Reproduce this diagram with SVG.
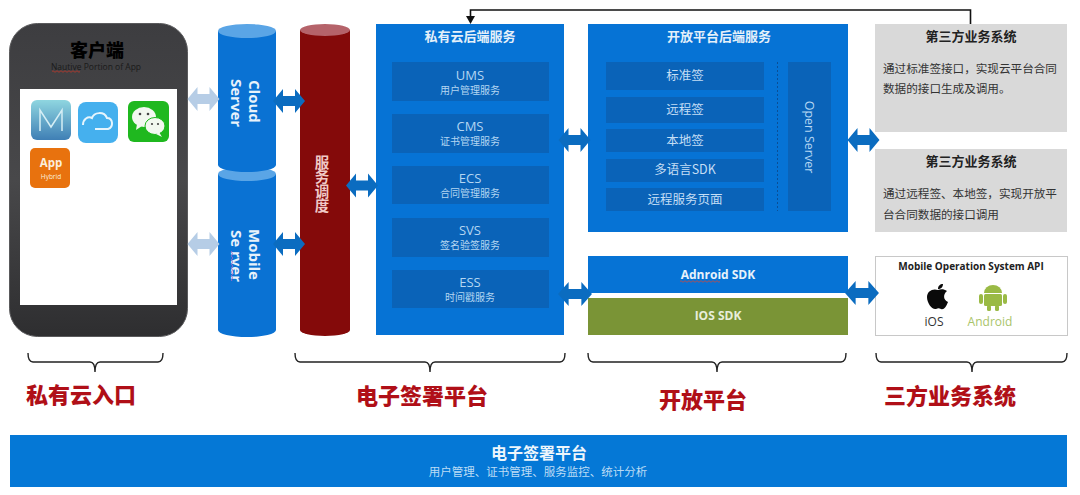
<svg xmlns="http://www.w3.org/2000/svg" width="1080" height="495" viewBox="0 0 1080 495">
<style>
text{font-family:"Noto Sans CJK SC","Open Sans","Liberation Sans",sans-serif;text-anchor:middle}
.box{fill:#0673d5}.in{fill:#0a63b8}.cyl{fill:#0a72d3}.captop{fill:#5aa5e6}
.t1{font-size:13px;fill:#b4d6f2}.t2{font-size:10px;fill:#b4d6f2}.t3{font-size:12.5px;fill:#c4def5}
.hd{font-size:13px;font-weight:700;fill:#e4f0fa}
.en{font-family:"Open Sans","Liberation Sans","Noto Sans CJK SC",sans-serif}
.rot{font-size:15px;font-weight:700;fill:#e8f2fb;text-anchor:start}
.gh{font-size:13px;font-weight:700;fill:#222}.gb{font-size:11.6px;fill:#333;text-anchor:start}
.red{font-size:22px;font-weight:900;fill:#b00f17}
.brace{fill:none;stroke:#222;stroke-width:1.4}
.wavy{fill:none;stroke:#c0392b;stroke-width:.8}
.dk{fill:#0b6cc0}.lt{fill:#b6cde6}
</style>
<defs>
<linearGradient id="ph" x1="0" y1="0" x2="0" y2="1"><stop offset="0" stop-color="#3d3d40"/><stop offset=".5" stop-color="#48484a"/><stop offset="1" stop-color="#2e2e30"/></linearGradient>
<linearGradient id="mi" x1="0" y1="0" x2="0" y2="1"><stop offset="0" stop-color="#8fd6e0"/><stop offset="1" stop-color="#3f7fb5"/></linearGradient>
<path id="da" d="M-16 0L-6-12V-5H6V-12L16 0L6 12V5H-6V12Z"/>
</defs>
<rect width="1080" height="495" fill="#fff"/>

<g id="client">
<rect x="9.500" y="23.500" width="178" height="313" rx="28" fill="url(#ph)" stroke="#5a5a5c"/>
<rect x="20" y="89" width="157" height="216" fill="#fff"/>
<text x="97" y="57" font-size="18" font-weight="900" fill="#000">客户端</text>
<text class="en" x="96" y="70" font-size="8.500" fill="#1a1a1a">Nautive Portion of App</text>
<path class="wavy" d="M52 71.500q1-1.500 2 0t2 0t2 0t2 0t2 0t2 0t2 0t2 0t2 0t2 0t2 0t2 0t2 0t2 0"/>
<g id="icon-m"><rect x="31" y="100" width="40" height="40" rx="6" fill="url(#mi)"/><path d="M40 131V110L51 127L62 110V131" fill="none" stroke="#d5eef5" stroke-width="1.500"/></g>
<g id="icon-cloud"><rect x="78" y="102" width="40" height="41" rx="8" fill="#45b0ee"/><path d="M83 125c0-6 5-9 9-7c2-6 12-7 15 0c6 0 7 9 1 11H95" fill="none" stroke="#e6f5fd" stroke-width="2"/></g>
<g id="icon-wechat"><rect x="128" y="101" width="41" height="41" rx="6" fill="#1fb81f"/><ellipse cx="144" cy="117" rx="12" ry="10" fill="#f2f8f0"/><path d="M137 124l-1 6 6-4z" fill="#f2f8f0"/><ellipse cx="155" cy="126" rx="10" ry="8.500" fill="#f2f8f0" stroke="#1fb81f"/><path d="M159 132l3 5-6-3z" fill="#f2f8f0"/><circle cx="140" cy="114" r="1.300" fill="#444"/><circle cx="148" cy="114" r="1.300" fill="#444"/><circle cx="152" cy="124" r="1.100" fill="#444"/><circle cx="158" cy="124" r="1.100" fill="#444"/></g>
<g id="icon-app"><rect x="30" y="148" width="40" height="40" rx="5" fill="#e8720e"/><text class="en" x="51" y="167" font-size="11.500" font-weight="700" fill="#fbeedd">App</text><text class="en" x="51" y="179" font-size="6.500" fill="#fbeedd">Hybrid</text></g>
</g>

<g id="mobile-server">
<path class="cyl" d="M218 174V330A29 7 0 0 0 276 330V174Z"/>
<ellipse class="captop" cx="247" cy="174" rx="29" ry="7"/>
<text class="rot en" transform="translate(249 229) rotate(90)">Mobile</text>
<text class="rot en" transform="translate(231 230) rotate(90)">Se rver</text>
<path d="M232 251q-1.500 1 0 2t0 2t0 2t0 2t0 2t0 2t0 2t0 2t0 2t0 2t0 2t0 2t0 2t0 2t0 2" fill="none" stroke="#b06ac8" stroke-width=".8"/>
</g>
<g id="cloud-server">
<path class="cyl" d="M218 31V165A29 7 0 0 0 276 165V31Z"/>
<ellipse class="captop" cx="247" cy="31" rx="29" ry="7"/>
<text class="rot en" transform="translate(249 80) rotate(90)">Cloud</text>
<text class="rot en" transform="translate(231 79) rotate(90)">Server</text>
</g>
<g id="dispatch">
<path d="M300 30V330A25 6 0 0 0 350 330V30Z" fill="#840a0a"/>
<ellipse cx="325" cy="30" rx="25" ry="6" fill="#b5636a"/>
<text x="322" y="155" font-size="14.500" font-weight="700" fill="#f0c9c6" style="writing-mode:vertical-rl;text-orientation:upright;text-anchor:start">服务调度</text>
</g>

<g id="private-cloud">
<rect class="box" x="376" y="24" width="188" height="311"/>
<text class="hd" x="470" y="41">私有云后端服务</text>
<rect class="in" x="392" y="62" width="157" height="39"/><text class="t1 en" x="470" y="80">UMS</text><text class="t2" x="470" y="94">用户管理服务</text>
<rect class="in" x="392" y="114" width="157" height="39"/><text class="t1 en" x="470" y="131">CMS</text><text class="t2" x="470" y="145">证书管理服务</text>
<rect class="in" x="392" y="166" width="157" height="38"/><text class="t1 en" x="470" y="183">ECS</text><text class="t2" x="470" y="197">合同管理服务</text>
<rect class="in" x="392" y="218" width="157" height="39"/><text class="t1 en" x="470" y="235">SVS</text><text class="t2" x="470" y="249">签名验签服务</text>
<rect class="in" x="392" y="270" width="157" height="38"/><text class="t1 en" x="470" y="287">ESS</text><text class="t2" x="470" y="301">时间戳服务</text>
</g>

<g id="open-platform">
<rect class="box" x="588" y="24" width="260" height="208"/>
<text class="hd" x="719" y="41">开放平台后端服务</text>
<rect class="in" x="606" y="62" width="158" height="28"/><text class="t3" x="685" y="80">标准签</text>
<rect class="in" x="606" y="97" width="158" height="26"/><text class="t3" x="685" y="114">远程签</text>
<rect class="in" x="606" y="129" width="158" height="23"/><text class="t3" x="685" y="145">本地签</text>
<rect class="in" x="606" y="159" width="158" height="23"/><text class="t3" x="685" y="174">多语言SDK</text>
<rect class="in" x="606" y="188" width="158" height="23"/><text class="t3" x="685" y="204">远程服务页面</text>
<path d="M777.500 62V211" stroke="#0a4f96" stroke-dasharray="2 2" fill="none"/>
<rect class="in" x="788" y="62" width="43" height="149"/>
<text class="en" transform="translate(804.500 137) rotate(90)" font-size="12.500" fill="#b4d6f2">Open Server</text>
</g>

<g id="sdk">
<rect class="box" x="588" y="256" width="260" height="37"/>
<text class="en" x="718" y="279" font-size="12" font-weight="700" fill="#e8f2fb">Adnroid SDK</text>
<path d="M680 281.500q1-1.500 2 0t2 0t2 0t2 0t2 0t2 0t2 0t2 0t2 0t2 0t2 0t2 0t2 0t2 0t2 0t2 0t2 0t2 0t2 0t2 0" fill="none" stroke="#d04a3a" stroke-width=".8"/>
<rect x="588" y="298" width="260" height="37" fill="#7a9436"/>
<text class="en" x="718" y="320" font-size="12" font-weight="700" fill="#e8eedb">IOS SDK</text>
</g>

<g id="third-party-1">
<rect x="875" y="24" width="192" height="108" fill="#d9d9d9"/>
<text class="gh" x="971" y="41">第三方业务系统</text>
<text class="gb" x="883" y="73">通过标准签接口，实现云平台合同</text>
<text class="gb" x="883" y="93">数据的接口生成及调用。</text>
</g>
<g id="third-party-2">
<rect x="875" y="149" width="192" height="83" fill="#d9d9d9"/>
<text class="gh" x="971" y="166">第三方业务系统</text>
<text class="gb" x="883" y="198">通过远程签、本地签，实现开放平</text>
<text class="gb" x="883" y="219">台合同数据的接口调用</text>
</g>
<g id="mobile-api">
<rect x="875.500" y="256.500" width="192" height="79" fill="#fff" stroke="#c8c8c8"/>
<text class="en" x="971" y="270" font-size="10" font-weight="700" fill="#222">Mobile Operation System API</text>
<path d="M938 290c3-1 6-1 9 1c-4 3-4 9 1 11c-2 5-4 8-7 7c-2-1-3-1-5 0c-4 1-9-6-9-12c0-6 6-9 11-7zM938 289c0-3 2-5 5-5c0 3-2 5-5 5z" fill="#0a0a0a"/>
<text class="en" x="934" y="326" font-size="12" fill="#333">iOS</text>
<g fill="#9aba45"><path d="M984 293a9 8 0 0 1 18 0z"/><rect x="984" y="294" width="18" height="12" rx="1.500"/><rect x="979" y="294" width="4" height="10" rx="2"/><rect x="1003" y="294" width="4" height="10" rx="2"/><rect x="987" y="305" width="4" height="6" rx="1.500"/><rect x="995" y="305" width="4" height="6" rx="1.500"/></g>
<text class="en" x="990" y="326" font-size="12" fill="#a9c46a">Android</text>
</g>

<g id="connectors">
<path d="M970.500 24V10H470.500V17" fill="none" stroke="#111" stroke-width="1.600"/>
<path d="M466 16H475L470.500 24Z" fill="#111"/>
<use href="#da" class="lt" transform="translate(203.500 99)"/>
<use href="#da" class="lt" transform="translate(203.500 244)"/>
<use href="#da" class="dk" transform="translate(289 101)"/>
<use href="#da" class="dk" transform="translate(289 244)"/>
<use href="#da" class="dk" transform="translate(362 185.500)"/>
<use href="#da" class="dk" transform="translate(574.500 140)"/>
<use href="#da" class="dk" transform="translate(575 294) scale(1.060 1)"/>
<use href="#da" class="dk" transform="translate(863.500 140)"/>
<use href="#da" class="dk" transform="translate(862 293) scale(1.060 1)"/>
</g>

<g id="brace-labels">
<path class="brace" d="M28 353c0 6 1 9 5 9H90c3 0 5 3 5 10c0-7 2-10 5-10H158c4 0 5-3 5-9"/>
<path class="brace" d="M295 353c0 6 1 9 5 9H425c3 0 5 3 5 10c0-7 2-10 5-10H560c4 0 5-3 5-9"/>
<path class="brace" d="M588 353c0 6 1 9 5 9H712c3 0 5 3 5 10c0-7 2-10 5-10H841c4 0 5-3 5-9"/>
<path class="brace" d="M876 353c0 6 1 9 5 9H967c3 0 5 3 5 10c0-7 2-10 5-10H1062c4 0 5-3 5-9"/>
<text class="red" x="81" y="403">私有云入口</text>
<text class="red" x="422" y="404">电子签署平台</text>
<text class="red" x="703" y="408">开放平台</text>
<text class="red" x="950" y="404">三方业务系统</text>
</g>

<g id="footer">
<rect x="10" y="435" width="1057" height="52" fill="#0578d6"/>
<text x="539" y="459" font-size="16" font-weight="700" fill="#eef6fc">电子签署平台</text>
<text x="538" y="476" font-size="11.500" fill="#bcdcf5">用户管理、证书管理、服务监控、统计分析</text>
</g>
</svg>
